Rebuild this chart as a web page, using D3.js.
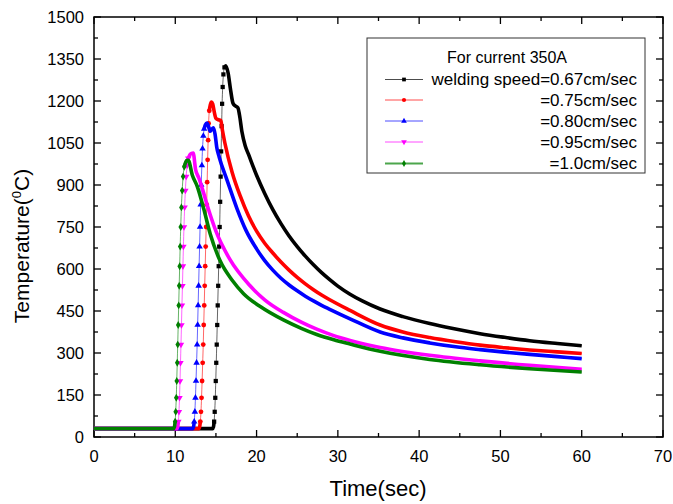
<!DOCTYPE html>
<html>
<head>
<meta charset="utf-8">
<script src="https://cdn.jsdelivr.net/npm/d3@7"></script>
<style>
  body { margin: 0; background: #fff; }
  svg text { font-family: Arial, "Liberation Sans", sans-serif; fill: #000; }
</style>
</head>
<body>
<svg id="chart" width="673" height="504"></svg>
<script>
// time (sec) and temperature (C), one pair of arrays per welding speed
const time067 = [0, 14.6, 14.7, 14.78, 14.85, 14.92, 14.98, 15.04, 15.1, 15.16, 15.22, 15.28, 15.34, 15.4,
  15.46, 15.52, 15.58, 15.64, 15.7, 15.76, 15.83, 15.92, 16.05, 16.2,
  16.5, 16.8, 17.1, 17.4, 17.7, 17.9, 18.2, 18.6, 19, 20, 21, 22, 23, 24, 25, 26, 27, 28, 29, 30, 31.5,
  33, 35.2, 38, 41.3, 44, 47.5, 50.5, 53.6, 57, 60];
const temp067 = [30, 30, 36, 55, 90, 140, 200, 265, 330, 400, 470, 540, 610, 680,
  750, 840, 930, 1020, 1110, 1190, 1250, 1295, 1320, 1326,
  1300, 1240, 1192, 1182, 1176, 1150, 1090, 1040, 1010, 935, 870, 812, 762, 718, 680, 646, 615, 587, 562, 539, 510,
  486, 457, 430, 405, 388, 369, 356, 344, 334, 326];

const time075 = [0, 12.9, 13.0, 13.08, 13.16, 13.23, 13.3, 13.37, 13.44, 13.5, 13.56, 13.62, 13.68, 13.74,
  13.8, 13.86, 13.92, 13.98, 14.04, 14.1, 14.18, 14.3, 14.45,
  14.6, 14.8, 15.0, 15.3, 15.6, 15.8, 16.1, 17, 18, 19, 20, 21, 22, 23, 24, 25, 26, 27, 28, 29, 31.5,
  35.2, 38, 41.3, 44.5, 47.5, 50.5, 53.6, 57, 60];
const temp075 = [30, 30, 36, 55, 90, 140, 200, 265, 330, 400, 470, 540, 610, 680,
  750, 830, 910, 990, 1060, 1120, 1165, 1185, 1196,
  1190, 1160, 1138, 1133, 1130, 1095, 1050, 945, 860, 790, 735, 692, 657, 625, 596, 570, 547, 526, 507, 490, 452,
  400, 375, 355, 340, 328, 319, 311, 304, 298];

const time080 = [0, 12.15, 12.25, 12.33, 12.41, 12.48, 12.55, 12.62, 12.69, 12.75, 12.81, 12.87, 12.93, 12.99,
  13.05, 13.12, 13.19, 13.27, 13.35, 13.45, 13.55, 13.7, 13.9,
  14.1, 14.3, 14.5, 14.7, 14.9, 15.1, 15.4, 16.4, 17.6, 18.7, 20, 21, 22, 23, 24, 25, 26, 27, 28, 29, 31.5,
  35.2, 38, 41.3, 44.5, 47.5, 50.5, 53.6, 57, 60];
const temp080 = [30, 30, 36, 55, 90, 140, 200, 265, 330, 400, 470, 540, 610, 680,
  750, 830, 900, 970, 1030, 1075, 1100, 1115, 1121,
  1108, 1092, 1100, 1104, 1080, 1035, 1000, 915, 815, 738, 672, 630, 596, 567, 543, 522, 503, 486, 470, 456, 422,
  375, 354, 336, 322, 312, 303, 295, 287, 280];

const time095 = [0, 10.2, 10.3, 10.38, 10.45, 10.52, 10.58, 10.64, 10.7, 10.76, 10.82, 10.88, 10.94, 11.0,
  11.07, 11.15, 11.24, 11.34, 11.46, 11.6, 11.8, 12.0, 12.2,
  12.5, 12.9, 13.4, 13.9, 15, 16.7, 19.2, 21, 23.3, 25.5, 27.4, 29.5, 31.5, 35.2, 41.3, 47.5, 53.6, 60];
const temp095 = [30, 30, 36, 55, 90, 140, 200, 265, 330, 400, 470, 540, 610, 680,
  750, 820, 880, 930, 970, 995, 1008, 1013, 1014,
  955, 925, 880, 830, 735, 635, 540, 490, 445, 410, 385, 362, 345, 320, 292, 272, 256, 242];

const time100 = [0, 9.8, 9.9, 9.98, 10.05, 10.12, 10.18, 10.24, 10.3, 10.36, 10.42, 10.48, 10.54, 10.6,
  10.67, 10.75, 10.85, 10.96, 11.1, 11.3, 11.45, 11.6,
  12.1, 12.7, 13.5, 14.3, 15.5, 17, 18.4, 20.5, 23.3, 25.5, 27.4, 29.5, 31.5, 35.2, 41.3, 47.5, 53.6, 60];
const temp100 = [30, 30, 36, 55, 90, 140, 200, 265, 330, 400, 470, 540, 610, 680,
  750, 820, 880, 930, 965, 983, 988, 988,
  935, 895, 815, 725, 630, 560, 512, 465, 418, 388, 366, 347, 332, 306, 277, 258, 244, 232];

const legendTitle = "For current 350A";
const seriesLabels = ["welding speed=0.67cm/sec", "=0.75cm/sec", "=0.80cm/sec", "=0.95cm/sec", "=1.0cm/sec"];
const xTicks = [0, 10, 20, 30, 40, 50, 60, 70];
const yTicks = [0, 150, 300, 450, 600, 750, 900, 1050, 1200, 1350, 1500];

const colors = ["#000000", "#ff0000", "#0000ff", "#ff00ff", "#008000"];
const symbols = [d3.symbolSquare, d3.symbolCircle, d3.symbolTriangle, d3.symbolTriangle, d3.symbolDiamond];
const rotations = [0, 0, 0, 180, 0];

const series = [
  { t: time067, v: temp067 },
  { t: time075, v: temp075 },
  { t: time080, v: temp080 },
  { t: time095, v: temp095 },
  { t: time100, v: temp100 }
];

const svg = d3.select("#chart");
const pLeft = 94, pRight = 663, pTop = 17, pBottom = 437;

const x = d3.scaleLinear().domain([0, 70]).range([pLeft, pRight]);
const y = d3.scaleLinear().domain([0, 1500]).range([pBottom, pTop]);

// frame + inward ticks on all four sides
const axisG = svg.append("g");
function ticksAlong(vals, isX, len, pos, dir) {
  vals.forEach(v => {
    if (isX) {
      axisG.append("line").attr("x1", x(v)).attr("x2", x(v))
        .attr("y1", pos).attr("y2", pos + dir * len);
    } else {
      axisG.append("line").attr("y1", y(v)).attr("y2", y(v))
        .attr("x1", pos).attr("x2", pos + dir * len);
    }
  });
}
const xMinor = d3.range(5, 70, 10);
const yMinor = d3.range(75, 1500, 150);
ticksAlong(xTicks, true, 7, pBottom, -1);
ticksAlong(xMinor, true, 4, pBottom, -1);
ticksAlong(xTicks, true, 7, pTop, 1);
ticksAlong(xMinor, true, 4, pTop, 1);
ticksAlong(yTicks, false, 7, pLeft, 1);
ticksAlong(yMinor, false, 4, pLeft, 1);
ticksAlong(yTicks, false, 7, pRight, -1);
ticksAlong(yMinor, false, 4, pRight, -1);
axisG.selectAll("line").attr("stroke", "#000").attr("stroke-width", 1.3);
axisG.append("rect").attr("x", pLeft).attr("y", pTop)
  .attr("width", pRight - pLeft).attr("height", pBottom - pTop)
  .attr("fill", "none").attr("stroke", "#000").attr("stroke-width", 1.5);

svg.append("g").selectAll("text").data(xTicks).join("text")
  .attr("x", d => x(d)).attr("y", 462)
  .attr("text-anchor", "middle").style("font-size", "16.5px")
  .text(d => d);

svg.append("g").selectAll("text").data(yTicks).join("text")
  .attr("x", 84).attr("y", d => y(d) + 6)
  .attr("text-anchor", "end").style("font-size", "16.5px")
  .text(d => d);

svg.append("text").attr("x", 378).attr("y", 496)
  .attr("text-anchor", "middle").style("font-size", "22px")
  .text("Time(sec)");

const yTitle = svg.append("text")
  .attr("transform", "translate(29,246) rotate(-90)")
  .attr("text-anchor", "middle").style("font-size", "21px");
yTitle.append("tspan").text("Temperature(");
yTitle.append("tspan").attr("dy", -8).style("font-size", "13px").text("0");
yTitle.append("tspan").attr("dy", 8).text("C)");

// curves: thin line everywhere, thick band where the dense markers overlap,
// separate markers only on the steep heating rise
const line = d3.line().curve(d3.curveMonotoneX);
const plot = svg.append("g");

series.forEach((s, k) => {
  const pts = s.t.map((t, i) => [x(t), y(s.v[i])]);
  const rising = [];
  for (let i = 0; i < pts.length - 1; i++) {
    const dx = pts[i + 1][0] - pts[i][0], dy = pts[i + 1][1] - pts[i][1];
    rising.push(dy < -6 && -dy > 2.5 * dx);
  }
  const g = plot.append("g");
  g.append("path").attr("d", line(pts)).attr("fill", "none")
    .attr("stroke", colors[k]).attr("stroke-width", 1).attr("stroke-opacity", 0.6);

  let run = [pts[0]];
  const runs = [];
  for (let i = 0; i < rising.length; i++) {
    if (!rising[i]) {
      run.push(pts[i + 1]);
    } else {
      if (run.length > 1) runs.push(run);
      run = [pts[i + 1]];
    }
  }
  if (run.length > 1) runs.push(run);
  runs.forEach(r => {
    g.append("path").attr("d", line(r)).attr("fill", "none")
      .attr("stroke", colors[k]).attr("stroke-width", 3.6).attr("stroke-linejoin", "round");
  });

  const markIdx = [];
  rising.forEach((st, i) => { if (st) { markIdx.push(i); markIdx.push(i + 1); } });
  const uniq = Array.from(new Set(markIdx));
  g.selectAll("path.m").data(uniq).join("path").attr("class", "m")
    .attr("transform", i => `translate(${pts[i][0]},${pts[i][1]}) rotate(${rotations[k]})`)
    .attr("d", d3.symbol().type(symbols[k]).size(18))
    .attr("fill", colors[k]);
});

// legend
const lg = svg.append("g");
lg.append("rect").attr("x", 367).attr("y", 38).attr("width", 278).attr("height", 135)
  .attr("fill", "#fff").attr("stroke", "#333").attr("stroke-width", 1);
lg.append("text").attr("x", 507).attr("y", 63).attr("text-anchor", "middle")
  .style("font-size", "16px").text(legendTitle);
const rowY = [79.5, 100, 121, 142, 163.5];
seriesLabels.forEach((lab, k) => {
  lg.append("line").attr("x1", 385).attr("x2", 423).attr("y1", rowY[k]).attr("y2", rowY[k])
    .attr("stroke", colors[k]).attr("stroke-width", k === 4 ? 2 : 1).attr("stroke-opacity", 0.7);
  lg.append("path").attr("transform", `translate(404,${rowY[k]}) rotate(${rotations[k]})`)
    .attr("d", d3.symbol().type(symbols[k]).size(14)).attr("fill", colors[k]);
  lg.append("text").attr("x", 637).attr("y", rowY[k] + 5.5).attr("text-anchor", "end")
    .style("font-size", "17px").text(lab);
});
</script>
</body>
</html>
